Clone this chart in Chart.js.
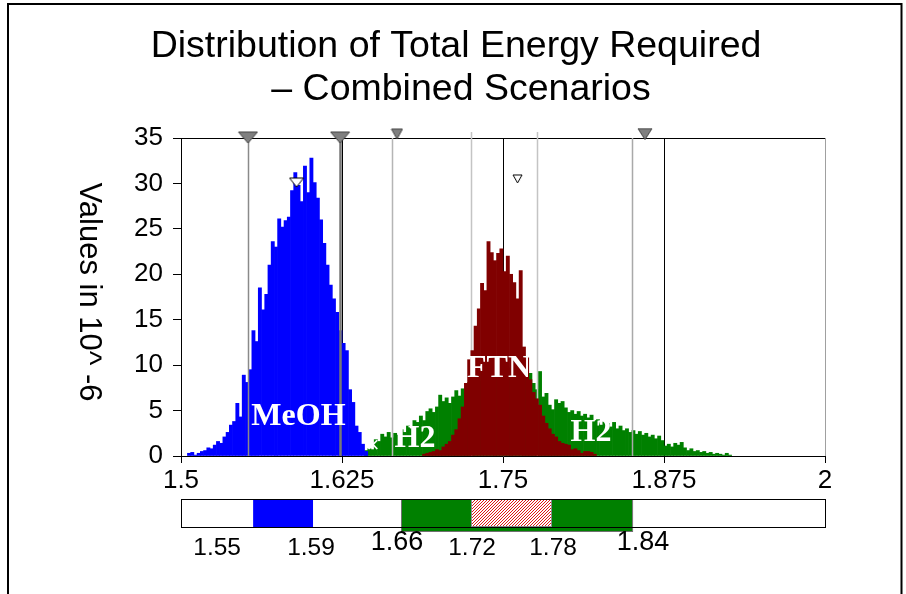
<!DOCTYPE html>
<html>
<head>
<meta charset="utf-8">
<script src="https://cdn.jsdelivr.net/npm/chart.js@4.4.1/dist/chart.umd.min.js"></script>
<style>
  html, body { margin: 0; padding: 0; background: #fff; }
</style>
</head>
<body>
<canvas id="energyChart" width="906" height="594"></canvas>
<script>
// Histogram bins (x = total energy), heights in 10^-6
const xMin = 1.5;
const xMax = 2;
const binWidth = 0.0025;

const meohFrom = 1.505;
const meohValues = [
    0.3, 0.4, 0.1, 0.3, 0.5, 0.6, 0.9, 0.8, 1.2, 1.6,
    1.4, 2.1, 2.6, 3.4, 3.8, 5.8, 4.3, 8.9, 8.1, 9.5,
    13.8, 12.6, 18.5, 16.1, 17.8, 21.0, 23.6, 23.0, 26.1, 25.2,
    25.9, 26.3, 29.2, 31.2, 29.8, 28.0, 31.9, 29.0, 32.8, 30.1,
    28.4, 26.0, 23.4, 21.0, 18.8, 17.3, 15.8, 13.8, 12.4, 11.6,
    7.3, 5.9, 3.3, 2.6, 1.3, 0.5
];

const h2From = 1.6425;
const h2Values = [
    0.6, 0.8, 0.7, 1.8, 1.6, 2.4, 2.1, 2.6, 2.0, 2.5,
    2.3, 2.9, 2.6, 3.3, 3.0, 3.9, 3.7, 4.4, 3.9, 4.9,
    5.2, 4.8, 5.4, 6.7, 6.0, 6.4, 5.8, 6.5, 7.2, 6.6,
    7.4, 7.0, 8.1, 7.6, 8.8, 8.2, 9.5, 8.9, 9.8, 9.1,
    10.2, 9.4, 9.9, 9.3, 9.7, 8.8, 9.6, 9.0, 9.3, 9.0,
    8.8, 9.1, 8.0, 7.3, 9.3, 6.5, 6.9, 5.6, 5.1, 6.2,
    5.8, 6.0, 5.3, 4.8, 5.0, 4.6, 4.9, 4.4, 4.6, 4.2,
    4.5, 3.9, 4.0, 3.4, 3.8, 3.6, 3.2, 3.7, 3.0, 3.3,
    2.8, 3.0, 2.6, 2.8, 2.4, 2.7, 2.3, 2.5, 2.1, 2.3,
    1.9, 2.2, 1.7, 1.1, 1.3, 1.0, 1.4, 1.2, 1.5, 0.9,
    0.6, 0.8, 0.5, 0.6, 0.4, 0.5, 0.3, 0.4, 0.2, 0.3,
    0.2, 0.1, 0.3, 0.1
];

const ftnFrom = 1.6875;
const ftnValues = [
    0.2, 0.3, 0.4, 0.5, 0.7, 0.6, 1.0, 1.3, 1.6, 2.3,
    2.9, 4.1, 5.4, 8.0, 10.6, 11.6, 14.3, 16.2, 19.0, 18.2,
    23.6, 22.4, 21.5, 22.3, 22.8, 20.3, 22.0, 20.0, 19.1, 17.3,
    20.4, 12.0, 10.9, 8.4, 7.0, 6.3, 5.6, 4.4, 3.6, 3.0,
    2.4, 2.1, 1.6, 1.4, 1.3, 1.2, 0.7, 0.8, 0.6, 0.3,
    0.5, 0.5, 0.4, 0.2
];

// Delimiter lines and markers
const delimLines = [1.552, 1.6235, 1.6638, 1.7252, 1.7764, 1.8502];
const delimMarkX = [1.552, 1.6235, 1.6677, 1.8602];
const delimMarkY = [35.05, 35.05, 35.44, 35.44];
const meanMarkX = [1.5897, 1.7613];
const meanMarkY = [30.1, 30.5];

// Series names written on the histograms
const seriesTags = ['MeOH', 'H2', 'FTN', 'H2', '×'];
const tagX = [1.5912, 1.6817, 1.7469, 1.8183, 1.6491];
const tagY = [4.35, 1.87, 9.58, 2.59, 1.1];

// Range bar under the chart
const meohBand = [1.556, 1.6025];
const h2Band = [1.6708, 1.8502];
const ftnBand = [1.7252, 1.7873];
const meohBandText = ['1.55', '1.59'];
const h2BandText = ['1.66', '1.84'];
const ftnBandText = ['1.72', '1.78'];

const titleLines = ['Distribution of Total Energy Required', '– Combined Scenarios'];
const yTitle = 'Values in 10^ -6';

const SANS = '"Liberation Sans", Arial, sans-serif';
const SERIF = '"Liberation Serif", "Times New Roman", serif';

function toPoints(from, values) {
    const first = Math.round((from - xMin) / binWidth);
    return values.map((v, i) => ({ x: xMin + (first + i + 0.5) * binWidth, y: v }));
}

function triangleIcon(w, h, fill, stroke) {
    const c = document.createElement('canvas');
    c.width = w + 2;
    c.height = h + 2;
    const g = c.getContext('2d');
    g.beginPath();
    g.moveTo(1, 1);
    g.lineTo(w + 1, 1);
    g.lineTo(w / 2 + 1, h + 1);
    g.closePath();
    g.fillStyle = fill;
    g.fill();
    g.strokeStyle = stroke;
    g.lineWidth = 1;
    g.stroke();
    return c;
}

// red diagonal hatching, pixel by pixel so it stays crisp
function hatchPattern(ctx) {
    const c = document.createElement('canvas');
    c.width = 3;
    c.height = 3;
    const g = c.getContext('2d');
    g.fillStyle = '#ffffff';
    g.fillRect(0, 0, 3, 3);
    g.fillStyle = '#e01818';
    for (let i = 0; i < 3; i++) g.fillRect(i, 2 - i, 1, 1);
    return ctx.createPattern(c, 'repeat');
}

const overlayPlugin = {
    id: 'overlay',
    // delimiter lines go over MeOH and H2 but under FTN
    beforeDatasetDraw(chart, args) {
        if (chart.data.datasets[args.index].label !== 'FTN') return;
        const { ctx, chartArea, scales: { x } } = chart;
        const colors = ['#8a8a8a', '#777777', '#b5b5b5', '#c4c4c4', '#c4c4c4', '#a9a9a9'];
        const widths = [1.5, 2.5, 1.5, 1.5, 1.5, 1.5];
        const rise = [0, 0, 0, 6, 6, 0];
        ctx.save();
        delimLines.forEach((v, i) => {
            const px = Math.round(x.getPixelForValue(v)) + 0.5;
            ctx.strokeStyle = colors[i];
            ctx.lineWidth = widths[i];
            ctx.beginPath();
            ctx.moveTo(px, chartArea.top - rise[i]);
            ctx.lineTo(px, chartArea.bottom);
            ctx.stroke();
        });
        ctx.restore();
    },
    afterDatasetsDraw(chart) {
        const { ctx, scales: { x, y } } = chart;
        ctx.save();
        ctx.fillStyle = '#fff';
        ctx.textAlign = 'center';
        ctx.textBaseline = 'middle';
        seriesTags.forEach((t, i) => {
            ctx.font = t === '×' ? '22px ' + SANS : 'bold 32px ' + SERIF;
            ctx.fillText(t, x.getPixelForValue(tagX[i]), y.getPixelForValue(tagY[i]));
        });
        ctx.restore();
    },
    afterDraw(chart) {
        const { ctx, chartArea, scales: { x } } = chart;
        ctx.save();

        // title
        ctx.fillStyle = '#000';
        ctx.textAlign = 'center';
        ctx.textBaseline = 'alphabetic';
        ctx.font = '37.5px ' + SANS;
        ctx.fillText(titleLines[0], 456, 57);
        ctx.fillText(titleLines[1], 461, 100);

        // y axis title, reading downwards
        ctx.save();
        ctx.translate(89, 292);
        ctx.rotate(Math.PI / 2);
        ctx.font = '31px ' + SANS;
        ctx.textBaseline = 'middle';
        ctx.fillText(yTitle, 0, 0);
        ctx.restore();

        // range bar
        const top = chartArea.bottom + 43;
        const h = 28;
        const px = v => x.getPixelForValue(v);
        ctx.fillStyle = '#fff';
        ctx.fillRect(x.left, top, x.right - x.left, h);
        ctx.fillStyle = '#0000ff';
        ctx.fillRect(px(meohBand[0]), top, px(meohBand[1]) - px(meohBand[0]), h);
        ctx.fillStyle = '#008000';
        ctx.fillRect(px(h2Band[0]), top, px(h2Band[1]) - px(h2Band[0]), h + 4);
        ctx.strokeStyle = '#707070';
        ctx.lineWidth = 1;
        ctx.strokeRect(Math.round(px(h2Band[0])) + 0.5, top + 0.5, px(h2Band[1]) - px(h2Band[0]), h + 4);
        ctx.fillStyle = hatchPattern(ctx);
        ctx.fillRect(px(ftnBand[0]), top, px(ftnBand[1]) - px(ftnBand[0]), h);
        ctx.strokeStyle = '#8a8a8a';
        ctx.strokeRect(Math.round(px(ftnBand[0])) + 0.5, top + 0.5, px(ftnBand[1]) - px(ftnBand[0]), h - 1);
        ctx.strokeStyle = '#000';
        ctx.strokeRect(x.left + 0.5, top + 0.5, x.right - x.left, h);

        // range bar labels
        ctx.fillStyle = '#000';
        ctx.textAlign = 'center';
        ctx.textBaseline = 'middle';
        ctx.font = '24.5px ' + SANS;
        ctx.fillText(meohBandText[0], px(meohBand[0]) - 36, chartArea.bottom + 92);
        ctx.fillText(meohBandText[1], px(meohBand[1]) - 2, chartArea.bottom + 92);
        ctx.fillText(ftnBandText[0], px(ftnBand[0]) + 1, chartArea.bottom + 92);
        ctx.fillText(ftnBandText[1], px(ftnBand[1]) + 2, chartArea.bottom + 92);
        ctx.font = '27px ' + SANS;
        ctx.fillText(h2BandText[0], px(h2Band[0]) - 4, chartArea.bottom + 87);
        ctx.fillText(h2BandText[1], px(h2Band[1]) + 11, chartArea.bottom + 87);

        // outer frame
        ctx.strokeStyle = '#000';
        ctx.lineWidth = 2;
        ctx.beginPath();
        ctx.moveTo(8, 600);
        ctx.lineTo(8, 4);
        ctx.lineTo(901.5, 4);
        ctx.lineTo(901.5, 600);
        ctx.stroke();
        ctx.restore();
    }
};

function renderChart() {
    const barStyle = { type: 'bar', grouped: false, barPercentage: 1, categoryPercentage: 1, borderWidth: 0 };
    const ctx = document.getElementById('energyChart').getContext('2d');
    new Chart(ctx, {
        type: 'bar',
        data: {
            datasets: [
                Object.assign({ label: 'H2', data: toPoints(h2From, h2Values), backgroundColor: '#008000', order: 4 }, barStyle),
                Object.assign({ label: 'MeOH', data: toPoints(meohFrom, meohValues), backgroundColor: '#0000ff', order: 3 }, barStyle),
                Object.assign({ label: 'FTN', data: toPoints(ftnFrom, ftnValues), backgroundColor: '#800000', order: 2 }, barStyle),
                {
                    type: 'scatter',
                    label: 'delimiters',
                    data: delimMarkX.map((v, i) => ({ x: v, y: delimMarkY[i] })),
                    pointStyle: [
                        triangleIcon(19, 11, '#808080', '#404040'),
                        triangleIcon(19, 11, '#808080', '#404040'),
                        triangleIcon(11, 10, '#808080', '#404040'),
                        triangleIcon(14, 11, '#808080', '#404040')
                    ],
                    pointRadius: 8,
                    clip: false,
                    order: 1
                },
                {
                    type: 'scatter',
                    label: 'means',
                    data: meanMarkX.map((v, i) => ({ x: v, y: meanMarkY[i] })),
                    pointStyle: [
                        triangleIcon(14, 9, '#ffffff', '#000000'),
                        triangleIcon(9, 8, '#ffffff', '#000000')
                    ],
                    pointRadius: 8,
                    clip: false,
                    order: 0
                }
            ]
        },
        options: {
            responsive: false,
            animation: false,
            events: [],
            devicePixelRatio: 1,
            layout: { padding: { top: 138, right: 81, bottom: 98, left: 0 } },
            plugins: {
                legend: { display: false },
                tooltip: { enabled: false },
                title: { display: false }
            },
            scales: {
                x: {
                    type: 'linear',
                    min: xMin,
                    max: xMax,
                    offset: false,
                    grid: {
                        offset: false,
                        drawOnChartArea: true,
                        color: c => (c.tick && c.tick.value === xMax) ? '#a0a0a0' : '#000',
                        tickColor: '#000',
                        tickLength: 7
                    },
                    border: { display: true, color: '#000', width: 1 },
                    ticks: {
                        stepSize: 0.125,
                        color: '#000',
                        padding: 2,
                        maxRotation: 0,
                        autoSkip: false,
                        font: { family: SANS, size: 26 },
                        callback: v => String(+v.toFixed(3))
                    },
                    afterFit: s => { s.height = 40; }
                },
                y: {
                    min: 0,
                    max: 35,
                    grid: {
                        drawOnChartArea: true,
                        color: c => (c.tick && c.tick.value === 35) ? '#000' : 'rgba(0,0,0,0)',
                        tickColor: '#000',
                        tickLength: 8
                    },
                    border: { display: true, color: '#000', width: 1 },
                    ticks: {
                        stepSize: 5,
                        color: '#000',
                        padding: 10,
                        font: { family: SANS, size: 26 }
                    },
                    afterFit: s => { s.width = 181; }
                }
            }
        },
        plugins: [overlayPlugin]
    });
}

renderChart();
</script>
</body>
</html>
